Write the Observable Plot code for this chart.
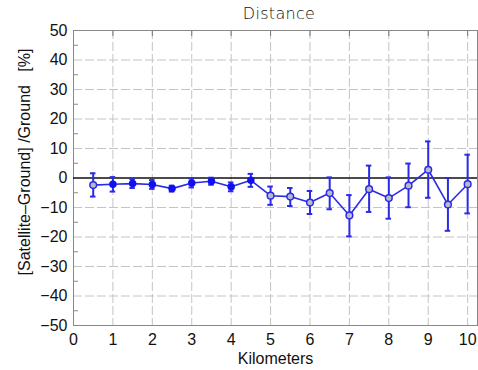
<!DOCTYPE html>
<html>
<head>
<meta charset="utf-8">
<script src="https://cdn.jsdelivr.net/npm/d3@7"></script>
<script src="https://cdn.jsdelivr.net/npm/@observablehq/plot@0.6"></script>
<style>
  body { margin: 0; background: #fff; }
  #chart { position: relative; width: 478px; height: 370px; }
  #title { position: absolute; top: 4px; left: 0; width: 478px; padding-left: 80px; box-sizing: border-box; text-align: center; font: 300 16px "DejaVu Sans", sans-serif; color: #111; letter-spacing: 0.3px; }
</style>
</head>
<body>
<div id="chart"><div id="title">Distance</div></div>
<script>
const km =      [0.5, 1.0, 1.5, 2.0, 2.5, 3.0, 3.5, 4.0, 4.5, 5.0, 5.5, 6.0, 6.5, 7.0, 7.5, 8.0, 8.5, 9.0, 9.5, 10.0];
const bias =    [-2.4, -2.1, -1.9, -2.2, -3.6, -1.7, -1.1, -3.0, -0.8, -6.0, -6.3, -8.3, -5.1, -12.7, -3.8, -6.8, -2.6, 2.8, -9.0, -2.1];
const errLow =  [-6.3, -4.6, -3.4, -3.7, -4.6, -3.2, -2.3, -4.5, -3.0, -9.1, -9.5, -12.2, -10.6, -19.8, -11.5, -13.8, -9.9, -6.7, -17.9, -12.0];
const errHigh = [1.6, 0.3, -0.4, -0.7, -2.6, -0.2, 0.1, -1.5, 1.4, -2.9, -3.4, -4.4, 0.2, -5.8, 4.2, 0.2, 4.9, 12.4, 0.0, 7.9];
const filled =  [false, true, true, true, true, true, true, true, true, false, false, false, false, false, false, false, false, false, false, false];
const xTicks = [0, 1, 2, 3, 4, 5, 6, 7, 8, 9, 10];
const yTicks = [-50, -40, -30, -20, -10, 0, 10, 20, 30, 40, 50];
const yMinor = [-45, -35, -25, -15, -5, 5, 15, 25, 35, 45];
const yLabel = "[Satellite\u2013Ground] /Ground   [%]";
const xLabel = "Kilometers";

const data = km.map((k, i) => ({k, v: bias[i], lo: errLow[i], hi: errHigh[i], f: filled[i]}));
const blue = "#2b2be6";
const font = "'Liberation Sans', Arial, sans-serif";
const capHalf = 0.07;

const chart = Plot.plot({
  width: 478,
  height: 370,
  marginLeft: 73,
  marginRight: 1,
  marginTop: 30,
  marginBottom: 45,
  style: {fontFamily: font, fontSize: "16px", color: "#111", background: "transparent"},
  x: {domain: [0, 10.25]},
  y: {domain: [-50, 50]},
  marks: [
    Plot.ruleX(xTicks.filter(d => d > 0), {stroke: "#c4c4c4", strokeWidth: 1, strokeDasharray: "9,3"}),
    Plot.ruleY(yTicks.filter(d => d > -50 && d < 50 && d !== 0), {stroke: "#c4c4c4", strokeWidth: 1, strokeDasharray: "9,3"}),
    Plot.axisX({ticks: xTicks, tickSize: 0, tickPadding: 8, fontSize: 16, label: null}),
    Plot.axisX({anchor: "top", ticks: xTicks, tickSize: -5, tickFormat: () => "", stroke: "#777", label: null}),
    Plot.axisY({ticks: yTicks, tickSize: 0, tickPadding: 6, fontSize: 16, label: null}),
    Plot.axisY({ticks: yMinor, tickSize: -5, tickFormat: () => "", stroke: "#888", label: null}),
    Plot.text([xLabel], {frameAnchor: "bottom", dy: 38, fontSize: 16, fill: "#111", lineAnchor: "bottom"}),
    Plot.text([yLabel], {frameAnchor: "left", textAnchor: "middle", dx: -49, dy: -16, rotate: -90, fontSize: 16, fill: "#111"}),
    Plot.frame({stroke: "#888", strokeWidth: 1}),
    Plot.ruleY([0], {stroke: "#111", strokeWidth: 1.5}),
    Plot.ruleX(data, {x: "k", y1: "lo", y2: "hi", stroke: blue, strokeWidth: 2}),
    Plot.ruleY(data, {y: "lo", x1: d => d.k - capHalf, x2: d => d.k + capHalf, stroke: blue, strokeWidth: 2}),
    Plot.ruleY(data, {y: "hi", x1: d => d.k - capHalf, x2: d => d.k + capHalf, stroke: blue, strokeWidth: 2}),
    Plot.line(data, {x: "k", y: "v", stroke: blue, strokeWidth: 1.6}),
    Plot.dot(data, {x: "k", y: "v", r: d => d.f ? 4 : 5, fill: d => d.f ? "#1010f0" : "#b9b9c9", stroke: d => d.f ? "#1010f0" : blue, strokeWidth: 1.5})
  ]
});
document.getElementById("chart").appendChild(chart);
</script>
</body>
</html>
